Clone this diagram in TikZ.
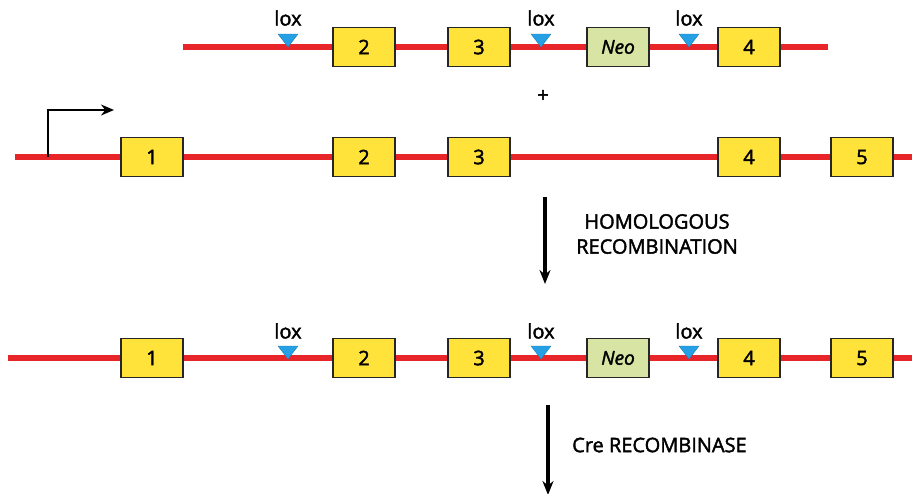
\documentclass[tikz,border=0pt]{standalone}
\usepackage{fontspec}
\setmainfont{Open Sans}[UprightFeatures={FakeBold=2},ItalicFeatures={FakeBold=2}]
\usetikzlibrary{arrows.meta}
\definecolor{dnared}{RGB}{232,38,42}
\definecolor{exonyellow}{RGB}{255,226,58}
\definecolor{neogreen}{RGB}{216,228,164}
\definecolor{loxblue}{RGB}{38,160,228}
\begin{document}
\begin{tikzpicture}[x=1pt,y=-1pt,>=stealth,font=\fontsize{20}{23}\selectfont,
    dna/.style={line width=6pt,draw=dnared},
    exon/.style={draw=black!85,line width=1.4pt,fill=exonyellow,minimum width=62pt,minimum height=39pt,inner sep=0pt},
    neobox/.style={exon,fill=neogreen,font=\fontsize{19}{22}\selectfont\itshape},
    loxsite/.style={fill=loxblue,draw=loxblue!80!black,line width=0.4pt},
    steparrow/.style={-{Stealth[length=14pt,width=11pt]},line width=3.4pt,shorten >=-2pt}]
\useasboundingbox (0,0) rectangle (912,493);
% targeting vector
\coordinate (aL) at (183,47);
\coordinate (aR) at (828,47);
\draw[dna] (aL) -- (aR);
\foreach \i/\x in {2/364,3/479,4/749} {
    \node[exon] (a\i) at (\x,47) {\i};
}
\node[neobox] (aneo) at (618,47) {Neo};
\foreach \i/\x in {1/288,2/541,3/689} {
    \fill[loxsite] (\x-10,34) -- (\x+10,34) -- (\x,47) -- cycle;
    \node (aloxt\i) at (\x,18) {lox};
}
\node (plus) at (543,96) {+};
% wild type gene
\coordinate (bL) at (15,157);
\coordinate (bR) at (912,157);
\draw[dna] (bL) -- (bR);
\coordinate (prom) at (48,157);
\coordinate (promtip) at (114,110);
\draw[-{Stealth[length=13pt,width=11pt]},line width=1.8pt] (prom) |- (promtip);
\foreach \i/\x in {1/152,2/364,3/479,4/749,5/862} {
    \node[exon] (b\i) at (\x,157) {\i};
}
% homologous recombination
\coordinate (hrtop) at (545,197);
\coordinate (hrbot) at (545,282);
\draw[steparrow] (hrtop) -- (hrbot);
\node[align=center,inner sep=0pt] (hrtext) at (657,234) {HOMOLOGOUS\\[2pt]RECOMBINATION};
% targeted allele
\coordinate (cL) at (8,358);
\coordinate (cR) at (912,358);
\draw[dna] (cL) -- (cR);
\foreach \i/\x in {1/152,2/364,3/479,4/749,5/862} {
    \node[exon] (c\i) at (\x,358) {\i};
}
\node[neobox] (cneo) at (618,358) {Neo};
\foreach \i/\x in {1/288,2/541,3/689} {
    \fill[loxsite] (\x-10,346) -- (\x+10,346) -- (\x,359) -- cycle;
    \node (cloxt\i) at (\x,331) {lox};
}
% cre recombinase
\coordinate (cretop) at (548,405);
\coordinate (crebot) at (548,493);
\draw[steparrow] (cretop) -- (crebot);
\node[anchor=west,inner sep=0pt] (cretext) at (572,445) {Cre RECOMBINASE};
\end{tikzpicture}
\end{document}
